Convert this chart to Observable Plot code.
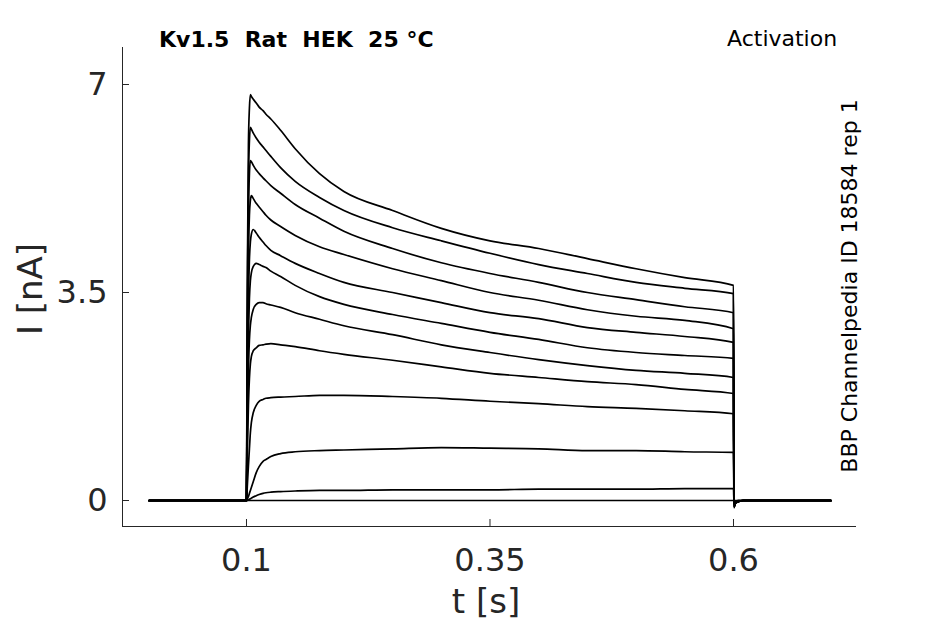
<!DOCTYPE html>
<html>
<head>
<meta charset="utf-8">
<script src="https://cdn.jsdelivr.net/npm/d3@7"></script>
<script src="https://cdn.jsdelivr.net/npm/@observablehq/plot@0.6"></script>
<style>
  html, body { margin: 0; padding: 0; background: #fff; }
  #chart svg { display: block; }
</style>
</head>
<body>
<div id="chart"></div>
<script>
const times = [0, 0.1, 0.1005, 0.101, 0.102, 0.103, 0.104, 0.105, 0.107, 0.11, 0.113, 0.117, 0.12, 0.125, 0.135, 0.15, 0.175, 0.2, 0.25, 0.3, 0.35, 0.4, 0.45, 0.5, 0.55, 0.6, 0.6005, 0.602, 0.605, 0.61, 0.7];

// Current (nA) for each voltage step sweep
const sweep01 = [0, 0, 2.0, 4.0, 6.0, 6.6, 6.83, 6.80, 6.75, 6.69, 6.62, 6.56, 6.50, 6.42, 6.23, 5.92, 5.50, 5.20, 4.88, 4.58, 4.37, 4.24, 4.07, 3.90, 3.75, 3.62, -0.12, -0.05, -0.02, 0, 0];
const sweep02 = [0, 0, 1.8, 3.6, 5.4, 6.05, 6.28, 6.25, 6.18, 6.10, 6.03, 5.95, 5.89, 5.79, 5.60, 5.37, 5.10, 4.88, 4.59, 4.37, 4.16, 3.97, 3.82, 3.67, 3.57, 3.48, -0.12, -0.05, -0.02, 0, 0];
const sweep03 = [0, 0, 1.5, 3.1, 4.8, 5.5, 5.72, 5.70, 5.64, 5.56, 5.50, 5.43, 5.38, 5.30, 5.17, 4.98, 4.75, 4.53, 4.24, 4.00, 3.82, 3.67, 3.50, 3.38, 3.26, 3.16, -0.11, -0.05, -0.02, 0, 0];
const sweep04 = [0, 0, 1.2, 2.6, 4.1, 4.8, 5.05, 5.13, 5.08, 5.00, 4.94, 4.86, 4.80, 4.72, 4.61, 4.46, 4.27, 4.14, 3.90, 3.70, 3.50, 3.37, 3.21, 3.10, 3.03, 2.89, -0.10, -0.04, -0.02, 0, 0];
const sweep05 = [0, 0, 1.0, 2.1, 3.4, 4.05, 4.35, 4.48, 4.56, 4.50, 4.43, 4.35, 4.29, 4.21, 4.12, 3.99, 3.82, 3.67, 3.50, 3.33, 3.16, 3.06, 2.91, 2.83, 2.76, 2.66, -0.10, -0.04, -0.02, 0, 0];
const sweep06 = [0, 0, 0.9, 1.8, 2.8, 3.4, 3.7, 3.83, 3.94, 3.99, 3.97, 3.94, 3.92, 3.86, 3.77, 3.62, 3.43, 3.30, 3.13, 2.98, 2.83, 2.71, 2.57, 2.49, 2.44, 2.39, -0.09, -0.04, -0.01, 0, 0];
const sweep07 = [0, 0, 0.7, 1.4, 2.2, 2.7, 2.95, 3.08, 3.22, 3.30, 3.33, 3.33, 3.31, 3.29, 3.25, 3.16, 3.05, 2.94, 2.79, 2.62, 2.49, 2.37, 2.27, 2.19, 2.14, 2.07, -0.08, -0.03, -0.01, 0, 0];
const sweep08 = [0, 0, 0.4, 0.9, 1.6, 2.05, 2.3, 2.42, 2.52, 2.57, 2.61, 2.62, 2.63, 2.64, 2.62, 2.59, 2.52, 2.46, 2.36, 2.25, 2.14, 2.07, 2.00, 1.95, 1.87, 1.80, -0.07, -0.03, -0.01, 0, 0];
const sweep09 = [0, 0, 0.13, 0.29, 0.59, 0.87, 1.14, 1.31, 1.48, 1.60, 1.67, 1.70, 1.72, 1.73, 1.74, 1.75, 1.77, 1.77, 1.75, 1.72, 1.67, 1.63, 1.58, 1.55, 1.51, 1.46, -0.06, -0.02, -0.01, 0, 0];
const sweep10 = [0, 0, 0.02, 0.03, 0.07, 0.12, 0.17, 0.22, 0.32, 0.47, 0.57, 0.66, 0.69, 0.74, 0.79, 0.82, 0.84, 0.85, 0.87, 0.89, 0.88, 0.87, 0.84, 0.84, 0.82, 0.81, -0.04, -0.02, 0, 0, 0];
const sweep11 = [0, 0, 0, 0.005, 0.01, 0.02, 0.03, 0.04, 0.06, 0.08, 0.10, 0.12, 0.13, 0.14, 0.15, 0.16, 0.17, 0.17, 0.18, 0.18, 0.18, 0.19, 0.19, 0.19, 0.20, 0.20, -0.02, -0.01, 0, 0, 0];
const sweep12 = [0, 0, 0, 0, 0, 0, 0, 0, 0, 0, 0, 0, 0, 0, 0, 0, 0, 0, 0, 0, 0, 0, 0, 0, 0, 0, 0, 0, 0, 0, 0];

const xTicks = [0.1, 0.35, 0.6];
const xTickLabels = ["0.1", "0.35", "0.6"];
const yTicks = [0, 3.5, 7];
const yTickLabels = ["0", "3.5", "7"];
const xDomain = [-0.0273, 0.7263];
const yDomain = [-0.4375, 7.6226];

const sweeps = [sweep01, sweep02, sweep03, sweep04, sweep05, sweep06, sweep07, sweep08, sweep09, sweep10, sweep11, sweep12];
const data = sweeps.flatMap((s, k) => s.map((v, j) => ({t: times[j], i: v, sweep: k})));

const axisColor = "#262626";
const font = "DejaVu Sans";

const chart = Plot.plot({
  width: 945,
  height: 624,
  marginLeft: 122,
  marginRight: 89,
  marginTop: 47,
  marginBottom: 98,
  style: {fontFamily: font, background: "white", overflow: "visible"},
  x: {domain: xDomain, label: null},
  y: {domain: yDomain, label: null},
  marks: [
    Plot.line(data, {x: "t", y: "i", z: "sweep", stroke: "black", strokeWidth: 1.7, strokeLinejoin: "round", curve: "monotone-x"}),
    Plot.ruleX([xDomain[0]], {stroke: axisColor, strokeWidth: 1}),
    Plot.ruleY([yDomain[0]], {stroke: axisColor, strokeWidth: 1}),
    // inward tick marks
    Plot.axisX({ticks: xTicks, tickFormat: () => "", tickSize: 7, dy: -7, color: axisColor, label: null}),
    Plot.axisY({ticks: yTicks, tickFormat: () => "", tickSize: 7, dx: 7, color: axisColor, label: null}),
    // tick labels
    Plot.axisX({ticks: xTicks, tickFormat: (d) => xTickLabels[xTicks.indexOf(d)], tickSize: 0, tickPadding: 22, fontSize: 32, color: axisColor, label: null}),
    Plot.axisY({ticks: yTicks, tickFormat: (d) => yTickLabels[yTicks.indexOf(d)], tickSize: 0, tickPadding: 15, fontSize: 32, color: axisColor, label: null})
  ]
});

document.getElementById("chart").appendChild(chart);

const svg = d3.select(chart);
svg.append("text")
  .attr("x", 159).attr("y", 47)
  .attr("text-anchor", "start")
  .attr("font-family", font).attr("font-size", 22).attr("font-weight", "bold")
  .attr("fill", "black").style("white-space", "pre")
  .text("Kv1.5  Rat  HEK  25 °C");
svg.append("text")
  .attr("x", 727).attr("y", 46)
  .attr("text-anchor", "start")
  .attr("font-family", font).attr("font-size", 22)
  .attr("fill", "black")
  .text("Activation");
svg.append("text")
  .attr("transform", "translate(857,286) rotate(-90)")
  .attr("text-anchor", "middle")
  .attr("font-family", font).attr("font-size", 22)
  .attr("fill", "black")
  .text("BBP Channelpedia ID 18584 rep 1");
svg.append("text")
  .attr("transform", "translate(42,289) rotate(-90)")
  .attr("text-anchor", "middle")
  .attr("font-family", font).attr("font-size", 34)
  .attr("fill", axisColor)
  .text("I [nA]");
svg.append("text")
  .attr("x", 486).attr("y", 613)
  .attr("text-anchor", "middle")
  .attr("font-family", font).attr("font-size", 34)
  .attr("fill", axisColor)
  .text("t [s]");
</script>
</body>
</html>
